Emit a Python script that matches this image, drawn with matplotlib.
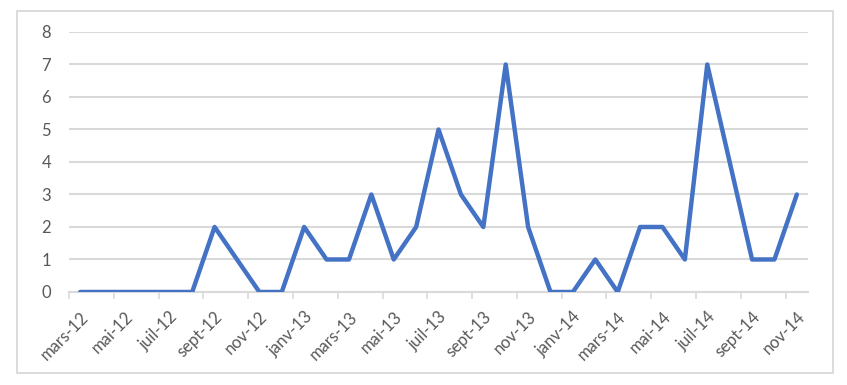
import matplotlib.pyplot as plt
from matplotlib.patches import Rectangle

# mois (format Excel "mmm-aa"), mars-12 -> nov-14
mois = ["mars-12", "avr-12", "mai-12", "juin-12", "juil-12", "août-12",
        "sept-12", "oct-12", "nov-12", "déc-12", "janv-13", "févr-13",
        "mars-13", "avr-13", "mai-13", "juin-13", "juil-13", "août-13",
        "sept-13", "oct-13", "nov-13", "déc-13", "janv-14", "févr-14",
        "mars-14", "avr-14", "mai-14", "juin-14", "juil-14", "août-14",
        "sept-14", "oct-14", "nov-14"]
valeurs = [0, 0, 0, 0, 0, 0,
           2, 1, 0, 0, 2, 1,
           1, 3, 1, 2, 5, 3,
           2, 7, 2, 0, 0, 1,
           0, 2, 2, 1, 7, 4,
           1, 1, 3]
y_ticks = [0, 1, 2, 3, 4, 5, 6, 7, 8]

gris = "#d9d9d9"
texte = "#595959"

fig = plt.figure(figsize=(8.47, 3.85), dpi=100)
ax = fig.add_axes([0.0815, 0.2416, 0.8725, 0.6753])

x = list(range(len(mois)))
ax.plot(x, valeurs, color="#4472C4", linewidth=3.2, solid_joinstyle="round",
        solid_capstyle="round", zorder=3)

ax.set_xlim(-0.5, len(mois) - 0.5)
ax.set_ylim(0, 8)
ax.set_yticks(y_ticks)
ax.yaxis.grid(True, color=gris, linewidth=1.5)
ax.set_axisbelow(True)

# labels un mois sur deux, traits entre les categories
ax.set_xticks(x[::2])
ax.set_xticklabels(mois[::2], rotation=45, ha="right", va="top",
                   rotation_mode="anchor", fontsize=12, color=texte,
                   family="Lato")
ax.set_xticks([i - 0.5 for i in range(0, len(mois), 2)], minor=True)
ax.tick_params(axis="x", which="major", length=0, pad=12)
ax.tick_params(axis="x", which="minor", length=5, width=1.2, color=gris)
ax.tick_params(axis="y", length=0, pad=13, labelsize=12, labelcolor=texte)
for lab in ax.get_yticklabels():
    lab.set_family("Lato")

for s in ["top", "right", "left"]:
    ax.spines[s].set_visible(False)
ax.spines["bottom"].set_color(gris)
ax.spines["bottom"].set_linewidth(1.5)

# cadre du graphique
fig.patches.append(Rectangle((0.0201, 0.0312), 0.9634, 0.9403,
                             transform=fig.transFigure, fill=False,
                             edgecolor=gris, linewidth=1.3))

fig.savefig("out.png", dpi=100)
